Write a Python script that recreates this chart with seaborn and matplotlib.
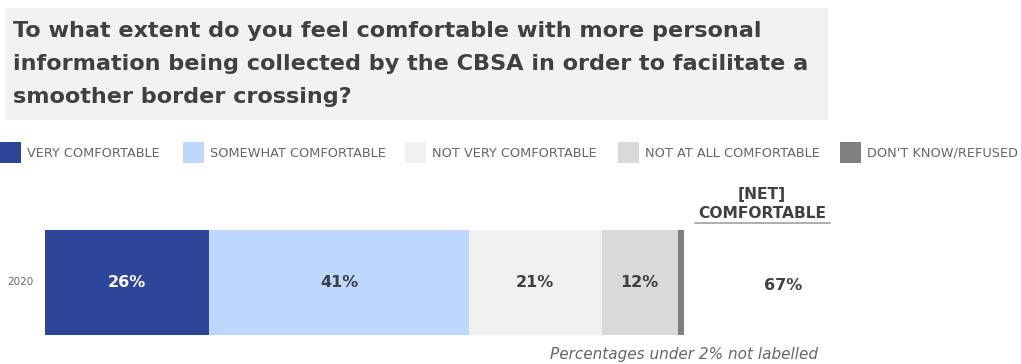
import matplotlib
matplotlib.use("Agg")
import matplotlib.pyplot as plt
from matplotlib.patches import Rectangle
import seaborn as sns
import pandas as pd

# Survey responses
years = ["2020"]
categories = ["VERY COMFORTABLE", "SOMEWHAT COMFORTABLE", "NOT VERY COMFORTABLE",
              "NOT AT ALL COMFORTABLE", "DON'T KNOW/REFUSED"]
values_2020 = [26, 41, 21, 12, 1]
net_comfortable = [67]
colors = ["#2E4699", "#BDD8FC", "#F0F0F0", "#D9D9D9", "#7F7F7F"]
label_colors = ["white", "#3F3F3F", "#3F3F3F", "#3F3F3F", "#3F3F3F"]

title = ("To what extent do you feel comfortable with more personal\n"
         "information being collected by the CBSA in order to facilitate a\n"
         "smoother border crossing?")

sns.set_theme(style="white")
plt.rcParams["font.family"] = ["DejaVu Sans"]

W, H = 1021, 364
fig = plt.figure(figsize=(W / 100, H / 100), dpi=100)

def fx(px):
    return px / W

def fy(py):
    return 1 - py / H

# Title box
fig.patches.append(Rectangle((fx(5), fy(120)), fx(823), (112) / H,
                             transform=fig.transFigure, facecolor="#F2F2F2",
                             edgecolor="none", zorder=0))
fig.text(fx(13), fy(21), title, ha="left", va="top", fontsize=16.1,
         fontweight="bold", color="#404040", linespacing=1.8)

# Legend
leg_x = [0, 183, 405, 618, 840]
for xs, cat, col in zip(leg_x, categories, colors):
    fig.patches.append(Rectangle((fx(xs), fy(163)), fx(21), 21 / H,
                                 transform=fig.transFigure, facecolor=col,
                                 edgecolor="none"))
    fig.text(fx(xs + 27), fy(153), cat, ha="left", va="center",
             fontsize=9.3, color="#666666")

# Stacked bar
df = pd.DataFrame({"year": years * len(categories),
                   "category": categories,
                   "value": values_2020})
df["cum"] = df["value"].cumsum()
total = df["value"].sum()

ax = fig.add_axes([fx(45), fy(335), fx(639), 105 / H])
for i in range(len(categories) - 1, -1, -1):
    sns.barplot(x=[df["cum"].iloc[i]], y=years, orient="h", color=colors[i],
                saturation=1, width=1.0, ax=ax, edgecolor="none")
ax.set_xlim(0, total)
ax.set_ylim(0.5, -0.5)
ax.axis("off")

starts = df["cum"] - df["value"]
for i, (s, v) in enumerate(zip(starts, df["value"])):
    if v >= 2:
        ax.text(s + v / 2, 0, f"{v}%", ha="center", va="center",
                fontsize=11.5, fontweight="bold", color=label_colors[i])

fig.text(fx(33), fy(282), years[0], ha="right", va="center", fontsize=7.5,
         color="#666666")

# Net column
fig.text(fx(762), fy(194), "[NET]", ha="center", va="center", fontsize=11.2,
         fontweight="bold", color="#404040")
fig.text(fx(762), fy(213), "COMFORTABLE", ha="center", va="center",
         fontsize=11.2, fontweight="bold", color="#404040")
fig.add_artist(plt.Line2D([fx(695), fx(830)], [fy(223), fy(223)],
                          transform=fig.transFigure, color="#A0A0A0", lw=1.2))
fig.text(fx(783), fy(285), f"{net_comfortable[0]}%", ha="center", va="center",
         fontsize=11.5, fontweight="bold", color="#404040")

fig.text(fx(818), fy(354), "Percentages under 2% not labelled", ha="right",
         va="center", fontsize=11, style="italic", color="#666666")

fig.savefig("out.png", dpi=100)
